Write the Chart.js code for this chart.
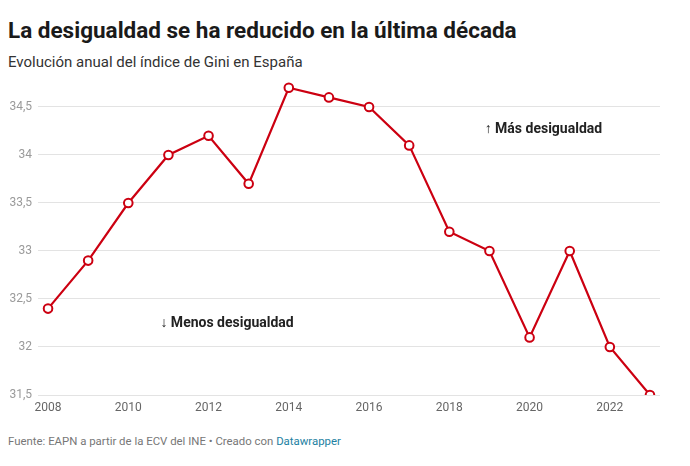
<!DOCTYPE html>
<html>
<head>
<meta charset="utf-8">
<script src="https://cdn.jsdelivr.net/npm/chart.js@4"></script>
<style>
  html, body { margin: 0; padding: 0; background: #fff; }
  body { width: 690px; height: 466px; position: relative; font-family: Roboto, "Noto Sans", sans-serif; overflow: hidden; }
  #title { position: absolute; left: 8px; top: 17px; font-size: 22.5px; font-weight: 700; color: #1a1a1a; white-space: nowrap; }
  #subtitle { position: absolute; left: 8px; top: 53px; font-size: 15px; color: #333; white-space: nowrap; }
  #footer { position: absolute; left: 8px; top: 434px; font-size: 11.4px; color: #777; white-space: nowrap; }
  #footer span { color: #1d81a2; }
  #wrap { position: absolute; left: 0; top: 65px; width: 690px; height: 357px; }
</style>
</head>
<body>
<div id="title">La desigualdad se ha reducido en la última década</div>
<div id="subtitle">Evolución anual del índice de Gini en España</div>
<div id="wrap"><canvas id="c"></canvas></div>
<div id="footer">Fuente: EAPN a partir de la ECV del INE • Creado con <span>Datawrapper</span></div>
<script>
const years = [2008, 2009, 2010, 2011, 2012, 2013, 2014, 2015, 2016, 2017, 2018, 2019, 2020, 2021, 2022, 2023];
const gini = [32.4, 32.9, 33.5, 34.0, 34.2, 33.7, 34.7, 34.6, 34.5, 34.1, 33.2, 33.0, 32.1, 33.0, 32.0, 31.5];
const yTicks = [31.5, 32, 32.5, 33, 33.5, 34, 34.5];
const xTicks = [2008, 2010, 2012, 2014, 2016, 2018, 2020, 2022];
const notes = [
  { text: '↑ Más desigualdad', x: 2018.88, y: 34.27 },
  { text: '↓ Menos desigualdad', x: 2010.8, y: 32.25 }
];

const fmt = v => String(v).replace('.', ',');

const notePlugin = {
  id: 'notes',
  afterDatasetsDraw(chart) {
    const ctx = chart.ctx;
    const xs = chart.scales.x, ys = chart.scales.y;
    ctx.save();
    ctx.font = '700 14px Roboto, sans-serif';
    ctx.fillStyle = '#222';
    ctx.textBaseline = 'middle';
    ctx.textAlign = 'left';
    notes.forEach(n => ctx.fillText(n.text, xs.getPixelForValue(n.x), ys.getPixelForValue(n.y)));
    ctx.restore();
  }
};

new Chart(document.getElementById('c'), {
  type: 'line',
  data: {
    datasets: [{
      data: years.map((y, i) => ({ x: y, y: gini[i] })),
      borderColor: '#cc0011',
      borderWidth: 2.2,
      pointRadius: 4.3,
      pointHoverRadius: 4.3,
      pointBorderWidth: 2,
      pointBackgroundColor: '#fff',
      pointBorderColor: '#cc0011',
      tension: 0
    }]
  },
  options: {
    responsive: true,
    maintainAspectRatio: false,
    animation: false,
    layout: { padding: { top: 7, right: 30, left: 0, bottom: 0 } },
    plugins: { legend: { display: false }, tooltip: { enabled: false } },
    scales: {
      x: {
        type: 'linear',
        min: 2007.75,
        max: 2023.25,
        afterBuildTicks: s => { s.ticks = xTicks.map(v => ({ value: v })); },
        afterFit: s => { s.height = 27; },
        grid: { display: false, drawTicks: false },
        border: { display: false },
        ticks: { padding: 6, color: '#666', font: { family: 'Roboto', size: 12 }, callback: v => String(v), maxRotation: 0 }
      },
      y: {
        min: 31.5,
        max: 34.8,
        afterBuildTicks: s => { s.ticks = yTicks.map(v => ({ value: v })); },
        afterFit: s => { s.width = 38; },
        grid: { color: '#e3e3e3', drawTicks: false, lineWidth: 1 },
        border: { display: false },
        ticks: { padding: 6, color: '#9a9a9a', font: { family: 'Roboto', size: 12 }, callback: v => fmt(v) }
      }
    }
  },
  plugins: [notePlugin]
});
</script>
</body>
</html>
